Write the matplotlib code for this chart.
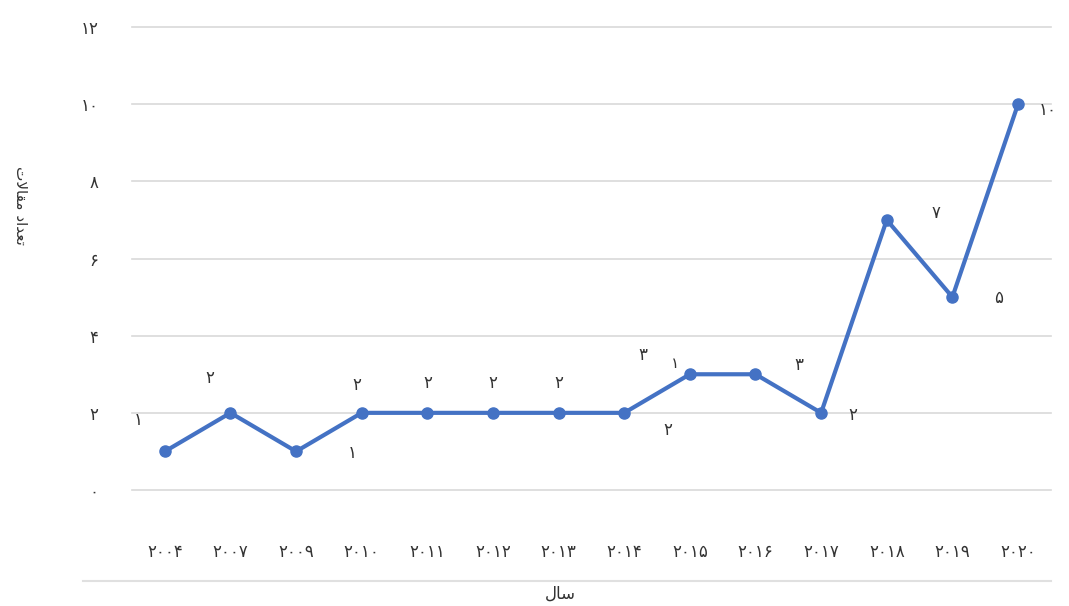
import matplotlib.pyplot as plt
from matplotlib.lines import Line2D

years = [2004, 2007, 2009, 2010, 2011, 2012, 2013, 2014, 2015, 2016, 2017, 2018, 2019, 2020]
counts = [1, 2, 1, 2, 2, 2, 2, 2, 3, 3, 2, 7, 5, 10]
y_ticks = [0, 2, 4, 6, 8, 10, 12]

# label offsets in pixels (Excel put them all over the place)
label_offsets = [(-27, 31), (-21, 35), (56, -2), (-5, 28), (0, 30), (0, 30), (0, 30),
                 (44, -17), (-47, 19), (43, 9), (32, -2), (49, 7), (46, -1), (30, -6)]

FA = str.maketrans("0123456789", "۰۱۲۳۴۵۶۷۸۹")


def fa(n):
    return str(n).translate(FA)


# shaped arabic text (presentation forms, visual order) since matplotlib has no shaping
xlabel = "\uFEDD\uFE8E\uFEB3"                                   # سال
ylabel = "\uFE95\uFEFB\uFE8E\uFED8\uFEE3 \uFEA9\uFE8D\uFEAA\uFECC\uFE97"  # تعداد مقالات

plt.rcParams["font.family"] = ["DejaVu Sans"]
blue = "#4472C4"
txt = "#333333"

fig = plt.figure(figsize=(10.69, 6.06), dpi=100)
ax = fig.add_axes([0.1235, 0.1914, 0.8595, 0.764])

xs = list(range(len(years)))
ax.plot(xs, counts, color=blue, lw=3, marker="o", ms=8, solid_capstyle="round")

for x, v, (dx, dy) in zip(xs, counts, label_offsets):
    ax.annotate(fa(v), (x, v), xytext=(dx, dy), textcoords="offset pixels",
                ha="center", va="center", fontsize=12, color=txt)
ax.annotate(fa(1), (8, 3), xytext=(-15, 11), textcoords="offset pixels",
            ha="center", va="center", fontsize=11, color=txt)

ax.set_xlim(-0.5, 13.5)
ax.set_ylim(0, 12)
ax.set_yticks(y_ticks)
ax.set_yticklabels([fa(t) for t in y_ticks], fontsize=12, color=txt)
ax.set_xticks(xs)
ax.set_xticklabels([fa(y) for y in years], fontsize=12, color=txt)
ax.tick_params(axis="y", length=0, pad=24)
ax.tick_params(axis="x", length=0, pad=38)
ax.grid(axis="y", color="#d9d9d9", lw=1.2)
for g in ax.yaxis.get_gridlines():
    g.set_clip_on(False)
ax.set_axisbelow(True)
for s in ax.spines.values():
    s.set_visible(False)

fig.add_artist(Line2D([0.078, 0.983], [1 - 581 / 606] * 2, color="#e0e0e0", lw=1.5))
fig.text(560 / 1069, 1 - 594 / 606, xlabel, ha="center", va="center", fontsize=12, color=txt)
fig.text(20 / 1069, 1 - 205 / 606, ylabel, ha="center", va="center", rotation=270,
         fontsize=11, color=txt)

fig.savefig("out.png", dpi=100)
